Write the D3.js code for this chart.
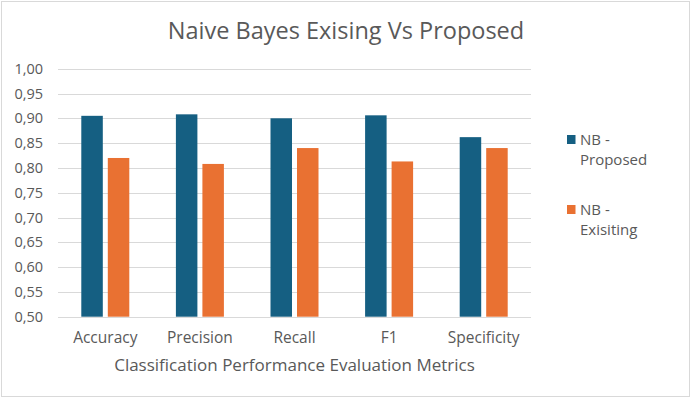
<!DOCTYPE html>
<meta charset="utf-8">
<head>
    <title>Naive Bayes Exising Vs Proposed</title>
    <style>
        html, body {
            margin: 0;
            padding: 0;
            background: #fff;
        }
        body {
            font-family: "Open Sans", sans-serif;
            color: #595959;
        }
        #chart .grid line {
            stroke: #d9d9d9;
            stroke-width: 1;
        }
        #chart text {
            fill: #595959;
        }
    </style>
</head>
<body>
    <div id="chart">
        <svg width="692" height="399"></svg>
    </div>
    <script src="https://cdn.jsdelivr.net/npm/d3@7"></script>
    <script>
        const categories = ['Accuracy', 'Precision', 'Recall', 'F1', 'Specificity'];
        const seriesNames = ['NB - Proposed', 'NB - Exisiting'];
        const proposed = [0.905, 0.908, 0.900, 0.906, 0.862];
        const existing = [0.820, 0.808, 0.840, 0.813, 0.840];
        const yTicks = [0.50, 0.55, 0.60, 0.65, 0.70, 0.75, 0.80, 0.85, 0.90, 0.95, 1.00];
        const colors = ['#155f82', '#e97132'];

        const svg = d3.select('#chart svg');

        // chart area border
        svg.append('rect')
            .attr('x', 1.5).attr('y', 1.5)
            .attr('width', 688).attr('height', 395)
            .attr('fill', '#fff')
            .attr('stroke', '#d9d9d9');

        const plot = { left: 58, right: 531, top: 68.7, bottom: 316.7 };

        const x = d3.scaleBand()
            .domain(categories)
            .range([plot.left, plot.right]);

        const y = d3.scaleLinear()
            .domain([0.5, 1.0])
            .range([plot.bottom, plot.top]);

        // gridlines
        svg.append('g')
            .attr('class', 'grid')
            .selectAll('line')
            .data(yTicks)
            .enter()
            .append('line')
            .attr('x1', plot.left)
            .attr('x2', plot.right)
            .attr('y1', d => Math.round(y(d)) + 0.5)
            .attr('y2', d => Math.round(y(d)) + 0.5);

        // y tick labels
        const fmt = d => d3.format('.2f')(d).replace('.', ',');
        svg.append('g')
            .selectAll('text')
            .data(yTicks)
            .enter()
            .append('text')
            .attr('x', 43)
            .attr('y', d => y(d))
            .attr('dy', '0.35em')
            .attr('text-anchor', 'end')
            .style('font-size', '14.5px')
            .text(fmt);

        // bars
        const barW = 21.5, gap = 5;
        const series = [proposed, existing];
        series.forEach((vals, s) => {
            svg.append('g')
                .selectAll('rect')
                .data(vals)
                .enter()
                .append('rect')
                .attr('x', (d, i) => x(categories[i]) + x.bandwidth() / 2 + (s === 0 ? -(barW + gap / 2) : gap / 2))
                .attr('y', d => y(d))
                .attr('width', barW)
                .attr('height', d => y(0.5) - y(d))
                .attr('fill', colors[s]);
        });

        // x axis line
        svg.append('line')
            .attr('x1', plot.left).attr('x2', plot.right)
            .attr('y1', Math.round(plot.bottom) + 0.5).attr('y2', Math.round(plot.bottom) + 0.5)
            .attr('stroke', '#d9d9d9');

        // x tick labels
        svg.append('g')
            .selectAll('text')
            .data(categories)
            .enter()
            .append('text')
            .attr('x', d => x(d) + x.bandwidth() / 2)
            .attr('y', 343)
            .attr('text-anchor', 'middle')
            .style('font-size', '15.5px')
            .text(d => d);

        // axis title
        svg.append('text')
            .attr('x', (plot.left + plot.right) / 2)
            .attr('y', 371)
            .attr('text-anchor', 'middle')
            .style('font-size', '17px')
            .text('Classification Performance Evaluation Metrics');

        // title
        svg.append('text')
            .attr('x', 346)
            .attr('y', 39)
            .attr('text-anchor', 'middle')
            .style('font-size', '23.5px')
            .text('Naive Bayes Exising Vs Proposed');

        // legend
        const legend = svg.append('g')
            .selectAll('g')
            .data(seriesNames)
            .enter()
            .append('g')
            .attr('transform', (d, i) => 'translate(567,' + (135 + i * 70) + ')');

        legend.append('rect')
            .attr('width', 8.5)
            .attr('height', 9)
            .attr('fill', (d, i) => colors[i]);

        legend.append('text')
            .attr('x', 13)
            .attr('y', 10)
            .style('font-size', '15px')
            .text(d => d.split(' - ')[0] + ' -');

        legend.append('text')
            .attr('x', 13)
            .attr('y', 30)
            .style('font-size', '15px')
            .text(d => d.split(' - ')[1]);
    </script>
</body>
</html>
